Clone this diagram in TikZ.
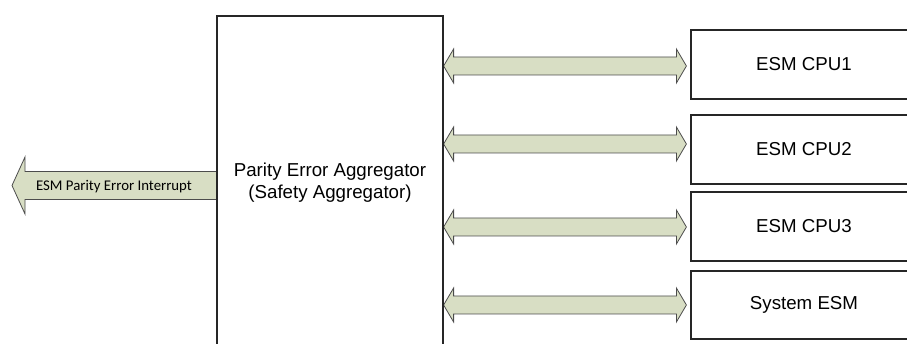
\documentclass[tikz,border=0pt]{standalone}
\usepackage{fontspec}
\setmainfont{Liberation Sans}
\newfontfamily\calibri{Carlito}
\usetikzlibrary{calc,backgrounds}
\definecolor{linkgreen}{RGB}{216,222,196}
% wide double-headed link from #1 (left tip) to #2 (right tip)
\newcommand{\widelink}[2]{%
  \draw[lnk] (#1) -- ++(10,-17) -- ++(0,8) -- ($(#2)+(-10,-9)$) -- ++(0,-8) -- (#2)
    -- ++(-10,17) -- ++(0,-8) -- ($(#1)+(10,9)$) -- ++(0,8) -- cycle;}

\begin{document}
\begin{tikzpicture}[x=1pt,y=-1pt,
  blk/.style={draw=black!85,line width=1.2pt,minimum width=226pt,inner sep=0pt,
    font=\fontsize{18.7}{21.5}\selectfont},
  lnk/.style={draw=black!70,line width=0.8pt,fill=linkgreen}]
  \useasboundingbox (0,0) rectangle (907,344);
  \clip (0,0) rectangle (907,344);
  \node[blk,minimum height=333pt,align=center] (agg) at (330,182.5) {Parity Error Aggregator\\(Safety Aggregator)};
  \node[blk,minimum height=69pt] (cpu1) at (804,64.5) {ESM CPU1};
  \node[blk,minimum height=69pt] (cpu2) at (804,149.5) {ESM CPU2};
  \node[blk,minimum height=69pt] (cpu3) at (804,226.5) {ESM CPU3};
  \node[blk,minimum height=68pt] (sesm) at (804,305) {System ESM};
  % links
  \coordinate (l1) at (agg.east |- 0,66);   \coordinate (r1) at ($(cpu1.west |- 0,66)+(-4,0)$);
  \coordinate (l2) at (agg.east |- 0,144);  \coordinate (r2) at ($(cpu2.west |- 0,144)+(-4,0)$);
  \coordinate (l3) at (agg.east |- 0,227);  \coordinate (r3) at ($(cpu3.west |- 0,227)+(-4,0)$);
  \coordinate (l4) at (agg.east |- 0,305);  \coordinate (r4) at ($(sesm.west |- 0,305)+(-4,0)$);
  \coordinate (irq) at (12,185.5);
  \coordinate (aw) at (agg.west |- irq);
  \begin{scope}[on background layer]
    \widelink{l1}{r1} \widelink{l2}{r2} \widelink{l3}{r3} \widelink{l4}{r4}
    \draw[lnk] (aw) -- ++(0,-14) -- ($(irq)+(13,-14)$) -- ++(0,-14.5) -- (irq)
      -- ++(13,28.5) -- ++(0,-14.5) -- ($(aw)+(0,14)$) -- cycle;
  \end{scope}
  \node[font=\calibri\fontsize{14.8}{17}\selectfont,inner sep=0pt] (irqtxt) at (114,186.5) {ESM Parity Error Interrupt};
\end{tikzpicture}
\end{document}
